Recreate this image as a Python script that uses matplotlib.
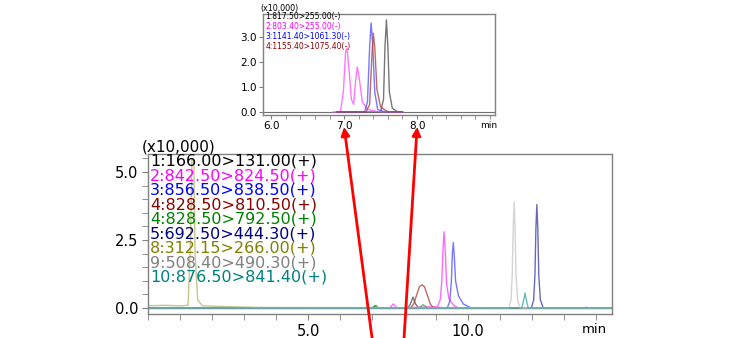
import matplotlib.pyplot as plt
from matplotlib.patches import ConnectionPatch
from matplotlib.ticker import MultipleLocator

plt.rcParams['font.family'] = ['DejaVu Sans']

# ---- main chromatogram (positive mode), intensity in x10,000 ----
labels_main = ['1:166.00>131.00(+)', '2:842.50>824.50(+)', '3:856.50>838.50(+)',
               '4:828.50>810.50(+)', '4:828.50>792.50(+)', '5:692.50>444.30(+)',
               '8:312.15>266.00(+)', '9:508.40>490.30(+)', '10:876.50>841.40(+)']
colors_main = ['#000000', '#ff00ff', '#0000ff', '#8b0000', '#008000',
               '#000080', '#808000', '#808080', '#008080']
light_main = ['#555555', '#ff44ff', '#5555ff', '#aa4444', '#44aa44',
              '#4444aa', '#b8b870', '#c8c8c8', '#44aaaa']

t_black = [0, 7.0, 7.08, 7.15, 8.12, 8.2, 8.28, 8.36, 8.45, 14.5]
y_black = [0, 0, 0.08, 0, 0, 0.15, 0.4, 0.15, 0, 0]
t_magenta = [0, 3.5, 3.55, 3.6, 7.55, 7.66, 7.78, 9.05, 9.13, 9.18, 9.22, 9.25, 9.29, 9.33, 9.4, 9.55, 9.7, 14.5]
y_magenta = [0, 0, 0.03, 0, 0, 0.15, 0, 0.05, 0.3, 1.0, 2.2, 2.8, 2.0, 0.9, 0.35, 0.1, 0, 0]
t_blue = [0, 9.35, 9.43, 9.48, 9.51, 9.54, 9.57, 9.61, 9.7, 9.85, 10.1, 13.65, 13.7, 13.75, 14.5]
y_blue = [0, 0, 0.25, 1.0, 2.0, 2.4, 1.9, 1.0, 0.45, 0.15, 0, 0, 0.03, 0, 0]
t_darkred = [0, 8.2, 8.3, 8.4, 8.48, 8.56, 8.64, 8.72, 8.82, 8.92, 14.5]
y_darkred = [0, 0, 0.15, 0.5, 0.78, 0.85, 0.78, 0.5, 0.15, 0, 0]
t_green = [0, 7.05, 7.12, 7.2, 8.45, 8.6, 8.75, 14.5]
y_green = [0, 0, 0.1, 0, 0, 0.12, 0, 0]
t_navy = [0, 11.98, 12.05, 12.09, 12.12, 12.15, 12.18, 12.21, 12.26, 12.35, 14.5]
y_navy = [0, 0, 0.3, 1.2, 2.9, 3.8, 2.9, 1.2, 0.3, 0, 0]
t_olive = [0, 0.5, 1.0, 1.25, 1.33, 1.37, 1.43, 1.47, 1.55, 1.7, 2.5, 3.5, 14.5]
y_olive = [0.08, 0.1, 0.08, 0.1, 2.5, 5.5, 5.4, 2.0, 0.3, 0.08, 0.05, 0.02, 0]
t_gray = [0, 11.28, 11.34, 11.38, 11.41, 11.44, 11.47, 11.5, 11.55, 11.62, 14.5]
y_gray = [0, 0, 0.3, 1.2, 2.9, 3.9, 2.9, 1.2, 0.3, 0, 0]
t_teal = [0, 11.68, 11.74, 11.78, 11.82, 11.88, 14.5]
y_teal = [0, 0, 0.3, 0.55, 0.3, 0, 0]

traces_main = [(t_black, y_black), (t_magenta, y_magenta), (t_blue, y_blue),
               (t_darkred, y_darkred), (t_green, y_green), (t_navy, y_navy),
               (t_olive, y_olive), (t_gray, y_gray), (t_teal, y_teal)]

# ---- inset chromatogram (negative mode) ----
labels_in = ['1:817.50>255.00(-)', '2:803.40>255.00(-)',
             '3:1141.40>1061.30(-)', '4:1155.40>1075.40(-)']
colors_in = ['#000000', '#ff00ff', '#0000ff', '#8b0000']
light_in = ['#555555', '#ff55ff', '#5555ff', '#aa4444']

ti_black = [6.9, 7.5, 7.54, 7.56, 7.58, 7.6, 7.62, 7.66, 7.72, 7.8]
yi_black = [0, 0, 0.5, 2.6, 3.68, 2.6, 0.8, 0.15, 0.02, 0]
ti_magenta = [6.85, 6.95, 6.99, 7.02, 7.04, 7.07, 7.1, 7.13, 7.16, 7.18, 7.21, 7.25, 7.32, 7.45, 7.8]
yi_magenta = [0, 0.02, 0.8, 2.4, 2.56, 1.6, 0.5, 0.3, 1.3, 1.8, 1.3, 0.4, 0.1, 0.02, 0]
ti_blue = [6.9, 7.28, 7.32, 7.35, 7.37, 7.39, 7.42, 7.46, 7.55, 7.8]
yi_blue = [0, 0, 0.4, 2.6, 3.56, 2.8, 0.8, 0.1, 0, 0]
ti_darkred = [6.9, 7.3, 7.35, 7.38, 7.4, 7.42, 7.45, 7.5, 7.6, 7.8]
yi_darkred = [0, 0, 0.3, 2.2, 3.15, 2.6, 0.9, 0.2, 0, 0]

traces_in = [(ti_black, yi_black), (ti_magenta, yi_magenta),
             (ti_blue, yi_blue), (ti_darkred, yi_darkred)]

fig = plt.figure(figsize=(7.56, 3.38), dpi=100)
ax = fig.add_axes([0.1958, 0.071, 0.6138, 0.472])
ax_in = fig.add_axes([0.348, 0.66, 0.307, 0.2988])

spine_col = '#808080'


def style_axes(a):
    for s in a.spines.values():
        s.set_color(spine_col)
        s.set_linewidth(1)
    a.tick_params(which='both', direction='out', color=spine_col)


# main plot
ax.axhline(0, color='#707070', lw=1, zorder=1)
for (t, y), c in zip(traces_main, light_main):
    ax.plot(t, y, color=c, lw=1, alpha=0.8, zorder=2)
ax.set_xlim(0, 14.5)
ax.set_ylim(-0.22, 5.64)
ax.set_xticks([5, 10])
ax.set_xticklabels(['5.0', '10.0'], fontsize=10.5)
ax.xaxis.set_minor_locator(MultipleLocator(1))
ax.set_yticks([0, 2.5, 5.0])
ax.set_yticklabels(['0.0', '2.5', '5.0'], fontsize=10.5)
ax.yaxis.set_minor_locator(MultipleLocator(0.5))
style_axes(ax)
ax.tick_params(which='both', length=4, pad=3)
ax.text(-0.013, 1.047, '(x10,000)', transform=ax.transAxes, fontsize=11,
        ha='left', va='center')
ax.text(0.961, -0.095, 'min', transform=ax.transAxes, fontsize=9.5,
        ha='center', va='center')
for i, (lab, c) in enumerate(zip(labels_main, colors_main)):
    ax.text(0.004, 0.959 - i * 0.0909, lab, transform=ax.transAxes,
            fontsize=11.5, color=c, ha='left', va='center')

# inset plot
ax_in.axhline(0, color='#707070', lw=0.8, zorder=1)
for (t, y), c in zip(traces_in, light_in):
    ax_in.plot(t, y, color=c, lw=1, alpha=0.8, zorder=2)
ax_in.set_xlim(5.89, 9.07)
ax_in.set_ylim(-0.12, 3.92)
ax_in.set_xticks([6, 7, 8])
ax_in.set_xticklabels(['6.0', '7.0', '8.0'], fontsize=7.5)
ax_in.xaxis.set_minor_locator(MultipleLocator(0.2))
ax_in.set_yticks([0, 1, 2, 3])
ax_in.set_yticklabels(['0.0', '1.0', '2.0', '3.0'], fontsize=7.5)
style_axes(ax_in)
ax_in.tick_params(which='both', length=3, pad=1.5)
ax_in.text(-0.01, 1.05, '(x10,000)', transform=ax_in.transAxes, fontsize=5.8,
           ha='left', va='center')
ax_in.text(0.97, -0.1, 'min', transform=ax_in.transAxes, fontsize=6.5,
           ha='center', va='center')
for i, (lab, c) in enumerate(zip(labels_in, colors_in)):
    ax_in.text(0.01, 0.97 - i * 0.098, lab, transform=ax_in.transAxes,
               fontsize=5.5, color=c, ha='left', va='center')

# red arrows linking the main time axis to the inset
for tx in [7.0, 8.0]:
    con = ConnectionPatch(xyA=(tx, -1.1), coordsA=ax.transData,
                          xyB=(tx, -0.6), coordsB=ax_in.transData,
                          arrowstyle='-|>', color='red', lw=2,
                          mutation_scale=12, zorder=10)
    fig.add_artist(con)

fig.savefig('out.png', dpi=100)
